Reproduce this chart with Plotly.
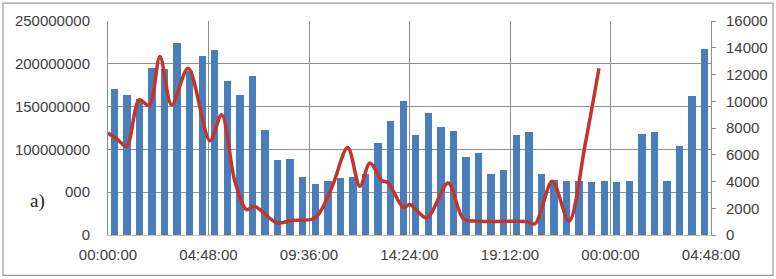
import plotly.graph_objects as go

# ---- data ----
tick_hours = [0, 4.8, 9.6, 14.4, 19.2, 24.0, 28.8]
tick_labels = ["00:00:00", "04:48:00", "09:36:00", "14:24:00", "19:12:00", "00:00:00", "04:48:00"]

left_tick_vals = [0, 50e6, 100e6, 150e6, 200e6, 250e6]
left_tick_labels = ["0", "000", "100000000", "150000000", "200000000", "250000000"]

slot_hours = 0.6  # each bar covers 36 minutes
bar_values = [
    170.7e6, 163.8e6, 159.0e6, 195.6e6, 193.7e6, 224.0e6, 192.0e6, 209.6e6,
    216.0e6, 180.0e6, 163.8e6, 186.3e6, 123.0e6, 87.2e6, 89.2e6, 67.8e6,
    59.7e6, 63.2e6, 66.2e6, 67.8e6, 71.3e6, 107.4e6, 133.4e6, 157.1e6,
    117.1e6, 143.1e6, 126.5e6, 121.8e6, 91.1e6, 95.8e6, 71.3e6, 76.3e6,
    117.1e6, 120.3e6, 71.3e6, 64.0e6, 63.5e6, 63.5e6, 61.5e6, 63.0e6,
    61.5e6, 62.7e6, 118.3e6, 120.3e6, 62.7e6, 103.5e6, 162.6e6, 217.3e6,
]

line_hours = [0.0, 0.45, 0.89, 1.49, 1.97, 2.48, 3.04, 3.83, 4.87, 5.43,
              6.06, 6.62, 6.99, 8.06, 8.77, 9.89, 10.68, 11.45, 12.03, 12.51,
              13.07, 13.39, 14.1, 14.42, 15.22, 16.25, 16.97, 17.77, 19.0, 20.0,
              20.4, 21.22, 22.02, 22.8, 23.45]
line_values = [7620, 7150, 6620, 10100, 9680, 13340, 9730, 12470, 7050, 8990,
               4010, 1900, 2150, 910, 1080, 1280, 3520, 6550, 3640, 5380,
               4090, 3890, 2070, 2280, 1280, 3890, 1230, 1030, 1020, 1000,
               840, 4010, 1030, 6870, 12470]

bar_x = [slot_hours * (i + 0.5) for i in range(len(bar_values))]

FONT = "Liberation Sans"
TXT = "#404040"
GRID = "#8f8f8f"

fig = go.Figure()
fig.add_trace(go.Bar(x=bar_x, y=bar_values, width=slot_hours * 0.59,
                     marker=dict(color="#4a7ebb", line=dict(width=0)),
                     yaxis="y", showlegend=False))
fig.add_trace(go.Scatter(x=line_hours, y=line_values, mode="lines",
                         line=dict(color="#c4342b", width=3.5, shape="spline", smoothing=0.9),
                         yaxis="y2", showlegend=False))

fig.update_layout(
    width=776, height=279,
    margin=dict(l=108, r=65, t=21, b=44),
    paper_bgcolor="white", plot_bgcolor="white",
    font=dict(family=FONT, size=15, color=TXT),
    bargap=0,
    xaxis=dict(range=[0, 28.8], tickmode="array", tickvals=tick_hours, ticktext=tick_labels,
               showgrid=True, gridcolor=GRID, gridwidth=1, zeroline=False,
               showline=True, linecolor="#e3b98c", linewidth=1, ticks="",
               ticklabelstandoff=6, automargin=False),
    yaxis=dict(range=[0, 250e6], tickmode="array", tickvals=left_tick_vals, ticktext=left_tick_labels,
               showgrid=True, gridcolor=GRID, gridwidth=1, zeroline=False,
               showline=True, linecolor=GRID, linewidth=1, ticks="",
               ticklabelstandoff=14, automargin=False),
    yaxis2=dict(range=[0, 16000], dtick=2000, tickformat="d", overlaying="y", side="right",
                showgrid=False, zeroline=False, showline=True, linecolor=GRID,
                ticks="outside", ticklen=4, tickcolor=GRID, ticklabelstandoff=7,
                automargin=False),
)

# panel label
fig.add_annotation(text="a)", xref="paper", yref="paper",
                   x=(37 - 108) / 603, y=(235.5 - 201) / 214.5,
                   xanchor="center", yanchor="middle", showarrow=False,
                   font=dict(family="Liberation Serif", size=19, color="#222222"))

# outer frame
fig.add_shape(type="rect", xref="paper", yref="paper",
              x0=(3 - 108) / 603, x1=(773 - 108) / 603,
              y0=(235.5 - 276) / 214.5, y1=(235.5 - 3) / 214.5,
              line=dict(color="#9a9a9a", width=1.2), layer="below")

fig.write_html("out.html", config={"displayModeBar": False},
               post_script="document.body.style.margin='0';document.body.style.overflow='hidden';")
